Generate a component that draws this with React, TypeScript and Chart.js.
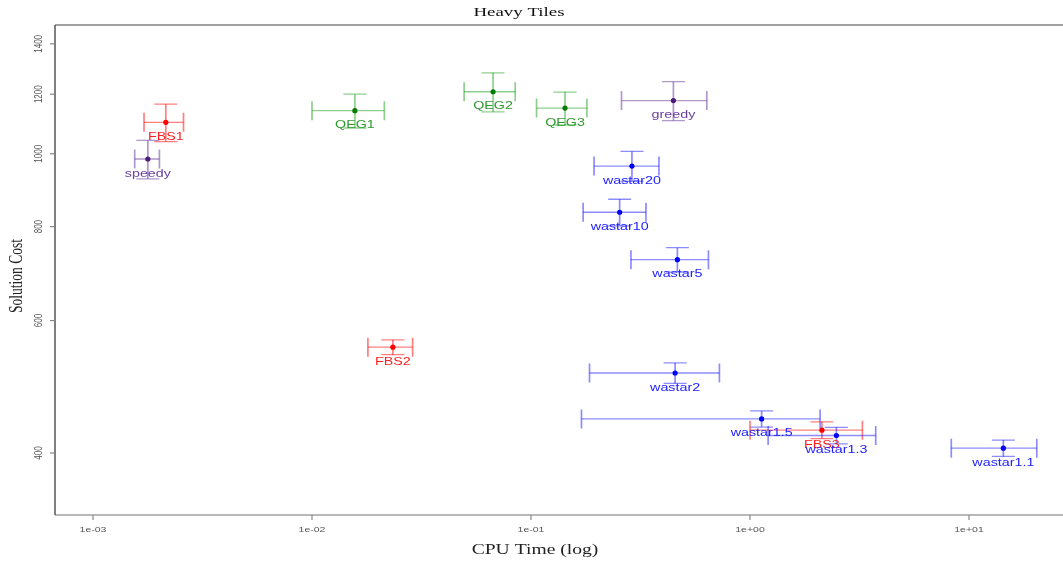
import React, { useEffect, useRef } from "react";
import { Chart, registerables } from "chart.js";

Chart.register(...registerables);

// Algorithm runs: mean CPU time / solution cost with their spread
const runNames = ["speedy", "FBS1", "QEG1", "QEG2", "QEG3", "greedy", "wastar20", "wastar10", "wastar5", "wastar2", "FBS2", "wastar1.5", "FBS3", "wastar1.3", "wastar1.1"];
const runFamily = ["purple", "red", "green", "green", "green", "purple", "blue", "blue", "blue", "blue", "red", "blue", "red", "blue", "blue"];
const cpuTime = [0.00178, 0.00215, 0.0157, 0.0671, 0.143, 0.447, 0.289, 0.254, 0.466, 0.455, 0.0234, 1.13, 2.13, 2.48, 14.35];
const cpuErr = [0.00023, 0.00044, 0.0057, 0.0176, 0.037, 0.188, 0.095, 0.081, 0.18, 0.27, 0.0054, 0.96, 1.13, 1.27, 6.05];
const solutionCost = [984, 1101, 1141, 1209, 1150, 1177, 963, 836, 723, 511, 553, 444, 429, 422, 406];
const costErr = [58, 63, 59, 72, 58, 70, 44, 34, 27, 16, 12.5, 11, 11, 10.7, 10.2];

const xTickValues = [0.001, 0.01, 0.1, 1, 10];
const xTickLabels = ["1e-03", "1e-02", "1e-01", "1e+00", "1e+01"];
const yTickValues = [400, 600, 800, 1000, 1200, 1400];
const yTickLabels = ["400", "600", "800", "1000", "1200", "1400"];

const palette: Record<string, { point: string; bar: string; label: string }> = {
  red: { point: "#ff0000", bar: "rgba(255,0,0,0.5)", label: "#ff1f1f" },
  green: { point: "#007a00", bar: "rgba(30,160,30,0.5)", label: "#2e9b2e" },
  purple: { point: "#4b1a7a", bar: "rgba(100,50,150,0.5)", label: "#6a40a0" },
  blue: { point: "#0000ff", bar: "rgba(0,0,255,0.45)", label: "#2222ff" },
};

// axis geometry: pixel of the 1e-03 / 400 gridline and pixels per decade
const X_ANCHOR_PX = 93;
const X_PX_PER_DECADE = 219;
const Y_ANCHOR_PX = 453;
const Y_PX_PER_DECADE = 752;

const SX = 1.4; // horizontal text stretch

function drawText(
  ctx: CanvasRenderingContext2D,
  text: string,
  x: number,
  y: number,
  font: string,
  color: string,
  align: CanvasTextAlign,
  baseline: CanvasTextBaseline,
  rotate = false,
  sx = SX
) {
  ctx.save();
  ctx.translate(x, y);
  ctx.scale(sx, 1);
  if (rotate) ctx.rotate(-Math.PI / 2);
  ctx.font = font;
  ctx.fillStyle = color;
  ctx.textAlign = align;
  ctx.textBaseline = baseline;
  ctx.fillText(text, 0, 0);
  ctx.restore();
}

const frameAndAxes = {
  id: "frameAndAxes",
  afterDraw(chart: any) {
    const { ctx, chartArea, scales } = chart;
    const { left, top, bottom } = chartArea;
    const right = chart.width;
    ctx.save();
    // frame
    ctx.lineWidth = 2;
    ctx.strokeStyle = "#a0a0a0";
    ctx.beginPath();
    ctx.moveTo(left, top);
    ctx.lineTo(right, top);
    ctx.stroke();
    ctx.lineWidth = 1.5;
    ctx.beginPath();
    ctx.moveTo(left, bottom);
    ctx.lineTo(right, bottom);
    ctx.stroke();
    ctx.strokeStyle = "#555";
    ctx.beginPath();
    ctx.moveTo(left, top);
    ctx.lineTo(left, bottom);
    ctx.stroke();

    // x ticks
    ctx.strokeStyle = "#888";
    ctx.lineWidth = 1.2;
    xTickValues.forEach((v, i) => {
      const px = scales.x.getPixelForValue(v);
      ctx.beginPath();
      ctx.moveTo(px, bottom);
      ctx.lineTo(px, bottom + 5);
      ctx.stroke();
      drawText(ctx, xTickLabels[i], px, bottom + 15, "7.5px 'Liberation Sans'", "#555", "center", "middle");
    });
    // y ticks
    yTickValues.forEach((v, i) => {
      const py = scales.y.getPixelForValue(v);
      ctx.beginPath();
      ctx.moveTo(left - 5, py);
      ctx.lineTo(left, py);
      ctx.stroke();
      drawText(ctx, yTickLabels[i], left - 13.5, py, "8px 'Liberation Sans'", "#555", "center", "alphabetic", true);
    });

    // titles
    drawText(ctx, "Heavy Tiles", 519, 16, "13.5px 'Liberation Serif'", "#111", "center", "alphabetic");
    drawText(ctx, "CPU Time (log)", 535, 554, "14px 'Liberation Serif'", "#222", "center", "alphabetic");
    drawText(ctx, "Solution Cost", 22, 276, "13.5px 'Liberation Serif'", "#222", "center", "alphabetic", true);
    ctx.restore();
  },
};

const errorBars = {
  id: "errorBars",
  beforeDatasetsDraw(chart: any) {
    const { ctx, scales } = chart;
    const xs = scales.x;
    const ys = scales.y;
    ctx.save();
    runNames.forEach((_, i) => {
      const col = palette[runFamily[i]];
      const cx = xs.getPixelForValue(cpuTime[i]);
      const cy = ys.getPixelForValue(solutionCost[i]);
      const x0 = xs.getPixelForValue(cpuTime[i] - cpuErr[i]);
      const x1 = xs.getPixelForValue(cpuTime[i] + cpuErr[i]);
      const y0 = ys.getPixelForValue(solutionCost[i] - costErr[i]);
      const y1 = ys.getPixelForValue(solutionCost[i] + costErr[i]);
      ctx.strokeStyle = col.bar;
      // horizontal segments
      ctx.lineWidth = 1.3;
      ctx.beginPath();
      ctx.moveTo(x0, cy);
      ctx.lineTo(x1, cy);
      ctx.moveTo(cx - 11.5, y0);
      ctx.lineTo(cx + 11.5, y0);
      ctx.moveTo(cx - 11.5, y1);
      ctx.lineTo(cx + 11.5, y1);
      ctx.stroke();
      // vertical segments
      ctx.lineWidth = 1.7;
      ctx.beginPath();
      ctx.moveTo(cx, y0);
      ctx.lineTo(cx, y1);
      ctx.moveTo(x0, cy - 9.5);
      ctx.lineTo(x0, cy + 9.5);
      ctx.moveTo(x1, cy - 9.5);
      ctx.lineTo(x1, cy + 9.5);
      ctx.stroke();
    });
    ctx.restore();
  },
  afterDatasetsDraw(chart: any) {
    const { ctx, scales } = chart;
    runNames.forEach((name, i) => {
      const col = palette[runFamily[i]];
      const cx = scales.x.getPixelForValue(cpuTime[i]);
      const cy = scales.y.getPixelForValue(solutionCost[i]);
      drawText(ctx, name, cx, cy + 14.5, "11px 'Liberation Sans'", col.label, "center", "middle", false, 1.3);
    });
  },
};

export default function App() {
  const canvasRef = useRef<HTMLCanvasElement | null>(null);

  useEffect(() => {
    document.body.style.margin = "0";
    const canvas = canvasRef.current;
    if (!canvas) return;
    const families = ["red", "green", "purple", "blue"];
    const datasets = families.map((fam) => ({
      label: fam,
      data: runNames
        .map((_, i) => ({ x: cpuTime[i], y: solutionCost[i], f: runFamily[i] }))
        .filter((d) => d.f === fam)
        .map((d) => ({ x: d.x, y: d.y })),
      pointRadius: 2.6,
      pointBorderWidth: 0,
      pointBackgroundColor: palette[fam].point,
      borderColor: palette[fam].point,
    }));

    const chart = new Chart(canvas, {
      type: "scatter",
      data: { datasets },
      options: {
        animation: false,
        responsive: false,
        devicePixelRatio: 1,
        layout: { padding: { left: 55, top: 25, right: 0, bottom: 47 } },
        plugins: { legend: { display: false }, tooltip: { enabled: false }, title: { display: false } },
        scales: {
          x: { type: "logarithmic", min: 6.71e-4, max: 26.86, bounds: "data", display: false },
          y: { type: "logarithmic", min: 330.9, max: 1483, bounds: "data", display: false },
        },
      },
      plugins: [errorBars, frameAndAxes],
    });

    // pin the axis ranges to the actual plot box so decades keep a fixed pixel size
    const ca = chart.chartArea;
    const sc: any = chart.options.scales;
    sc.x.min = Math.pow(10, -3 + (ca.left - X_ANCHOR_PX) / X_PX_PER_DECADE);
    sc.x.max = Math.pow(10, -3 + (ca.right - X_ANCHOR_PX) / X_PX_PER_DECADE);
    sc.y.min = 400 * Math.pow(10, (Y_ANCHOR_PX - ca.bottom) / Y_PX_PER_DECADE);
    sc.y.max = 400 * Math.pow(10, (Y_ANCHOR_PX - ca.top) / Y_PX_PER_DECADE);
    chart.update();

    return () => chart.destroy();
  }, []);

  return (
    <div style={{ width: 1063, height: 562, background: "#fff", overflow: "hidden" }}>
      <canvas ref={canvasRef} width={1063} height={562} style={{ display: "block" }} />
    </div>
  );
}
